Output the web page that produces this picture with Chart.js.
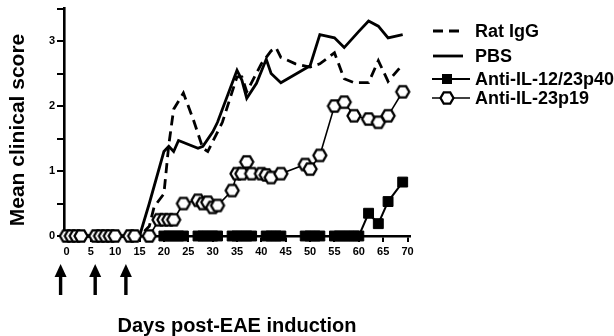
<!DOCTYPE html>
<html>
<head>
<meta charset="utf-8">
<style>
  html, body { margin: 0; padding: 0; background: #fff; }
  #wrap { width: 614px; height: 336px; }
</style>
</head>
<body>
<div id="wrap"><canvas id="myChart" width="614" height="336"></canvas></div>
<script src="https://cdn.jsdelivr.net/npm/chart.js@4/dist/chart.umd.min.js"></script>
<script>
// data (day, mean clinical score)
const ratDays   = [0, 15, 17, 18, 20, 21, 22, 24, 26, 28, 29, 31, 32, 35, 36, 37, 40, 42, 43, 44, 47, 50, 52, 55, 57, 59, 62, 64, 66, 69];
const ratScores = [0, 0, 0.15, 0.45, 0.65, 1.4, 1.95, 2.2, 1.8, 1.35, 1.3, 1.6, 1.75, 2.45, 2.45, 2.22, 2.65, 2.85, 2.9, 2.75, 2.65, 2.6, 2.65, 2.82, 2.42, 2.36, 2.36, 2.7, 2.38, 2.64];

const pbsDays   = [0, 15, 16, 17, 20, 21, 22, 23, 27, 28, 30, 31, 35, 36, 37, 39, 41, 42, 44, 50, 52, 55, 57, 60, 62, 64, 66, 69];
const pbsScores = [0, 0, 0.25, 0.5, 1.3, 1.38, 1.3, 1.47, 1.35, 1.38, 1.6, 1.75, 2.55, 2.4, 2.12, 2.35, 2.72, 2.5, 2.36, 2.62, 3.1, 3.05, 2.9, 3.15, 3.31, 3.23, 3.05, 3.1];

const p40Days   = [20, 21, 22, 23, 24, 27, 28, 29, 30, 31, 34, 35, 36, 37, 38, 41, 42, 43, 44, 49, 50, 51, 52, 55, 56, 57, 58, 59, 60, 62, 64, 66, 69];
const p40Scores = [0, 0, 0, 0, 0, 0, 0, 0, 0, 0, 0, 0, 0, 0, 0, 0, 0, 0, 0, 0, 0, 0, 0, 0, 0, 0, 0, 0, 0, 0.35, 0.19, 0.53, 0.83];

const p19Days   = [0, 1, 2, 3, 6, 7, 8, 9, 10, 13, 14, 17, 19, 20, 21, 22, 24, 27, 28, 29, 30, 31, 34, 35, 36, 37, 38, 40, 41, 42, 44, 49, 50, 52, 55, 57, 59, 62, 64, 66, 69];
const p19Scores = [0, 0, 0, 0, 0, 0, 0, 0, 0, 0, 0, 0, 0.25, 0.25, 0.25, 0.25, 0.5, 0.55, 0.5, 0.52, 0.44, 0.47, 0.7, 0.96, 0.96, 1.14, 0.96, 0.96, 0.94, 0.9, 0.96, 1.1, 1.03, 1.24, 2.0, 2.06, 1.85, 1.8, 1.75, 1.85, 2.22];

const seriesNames = ['Rat IgG', 'PBS', 'Anti-IL-12/23p40', 'Anti-IL-23p19'];
const xTicks = [0, 5, 10, 15, 20, 25, 30, 35, 40, 45, 50, 55, 60, 65, 70];
const yTicks = [0, 0.5, 1, 1.5, 2, 2.5, 3, 3.5];
const yLabels = [0, 1, 2, 3];
const arrowDays = [-1.2, 5.9, 12.2];

const FONT = '"Liberation Sans", Arial, Helvetica, sans-serif';

function pts(days, vals) {
    return days.map((d, i) => ({x: d, y: vals[i]}));
}

// open hexagon marker
const hex = document.createElement('canvas');
hex.width = 18; hex.height = 18;
(() => {
    const c = hex.getContext('2d');
    c.beginPath();
    for (let k = 0; k < 6; k++) {
        const a = Math.PI / 3 * k;
        const px = 9 + 6.5 * Math.cos(a), py = 9 + 6.5 * Math.sin(a);
        k === 0 ? c.moveTo(px, py) : c.lineTo(px, py);
    }
    c.closePath();
    c.fillStyle = '#fff';
    c.fill();
    c.lineWidth = 2.3;
    c.strokeStyle = '#000';
    c.stroke();
})();

// arrows, y title and legend
const extras = {
    id: 'extras',
    afterDraw(chart) {
        const ctx = chart.ctx;
        const xs = chart.scales.x;
        ctx.save();
        ctx.fillStyle = '#000';
        ctx.strokeStyle = '#000';

        arrowDays.forEach(d => {
            const x = xs.getPixelForValue(d);
            ctx.fillRect(x - 1.7, 275, 3.4, 20);
            ctx.beginPath();
            ctx.moveTo(x, 264);
            ctx.lineTo(x - 6, 277);
            ctx.lineTo(x + 6, 277);
            ctx.closePath();
            ctx.fill();
        });

        ctx.save();
        ctx.translate(18, 130);
        ctx.rotate(-Math.PI / 2);
        ctx.font = 'bold 21px ' + FONT;
        ctx.textAlign = 'center';
        ctx.textBaseline = 'middle';
        ctx.fillText('Mean clinical score', 0, 0);
        ctx.restore();

        // legend
        const rows = [31, 56, 79, 98];
        ctx.font = 'bold 18px ' + FONT;
        ctx.textAlign = 'left';
        ctx.textBaseline = 'middle';
        rows.forEach((y, i) => {
            ctx.beginPath();
            if (i === 0) {
                ctx.lineWidth = 2.8;
                ctx.setLineDash([10, 6]);
                ctx.moveTo(433, y); ctx.lineTo(465, y);
            } else if (i === 1) {
                ctx.lineWidth = 2.8;
                ctx.setLineDash([]);
                ctx.moveTo(433, y); ctx.lineTo(463, y);
            } else {
                ctx.lineWidth = i === 2 ? 2 : 1.6;
                ctx.setLineDash([]);
                ctx.moveTo(432, y); ctx.lineTo(470, y);
            }
            ctx.stroke();
            ctx.setLineDash([]);
            if (i === 2) ctx.fillRect(442, y - 5, 10, 10);
            if (i === 3) ctx.drawImage(hex, 447 - 9, y - 9);
            ctx.fillText(seriesNames[i], 475, y + 1);
        });
        ctx.restore();
    }
};

const ctx = document.querySelector('#myChart').getContext('2d');

const myChart = new Chart(ctx, {
    type: 'line',
    data: {
        datasets: [
            {
                label: seriesNames[0],
                data: pts(ratDays, ratScores),
                borderColor: '#000',
                borderWidth: 2.8,
                borderDash: [10, 6],
                pointRadius: 0,
                order: 3
            },
            {
                label: seriesNames[1],
                data: pts(pbsDays, pbsScores),
                borderColor: '#000',
                borderWidth: 2.8,
                pointRadius: 0,
                order: 2
            },
            {
                label: seriesNames[2],
                data: pts(p40Days, p40Scores),
                borderColor: '#000',
                borderWidth: 2,
                pointStyle: 'rect',
                pointRadius: 7,
                pointBackgroundColor: '#000',
                pointBorderColor: '#000',
                pointBorderWidth: 1,
                order: 1
            },
            {
                label: seriesNames[3],
                data: pts(p19Days, p19Scores),
                borderColor: '#000',
                borderWidth: 1.6,
                pointStyle: hex,
                pointRadius: 6,
                order: 0
            }
        ]
    },
    options: {
        responsive: false,
        animation: false,
        events: [],
        clip: false,
        elements: { line: { tension: 0 } },
        layout: { padding: { top: 8, right: 204, left: 0, bottom: 0 } },
        plugins: {
            legend: { display: false },
            tooltip: { enabled: false }
        },
        scales: {
            x: {
                type: 'linear',
                min: -0.5,
                max: 70.5,
                afterBuildTicks: s => { s.ticks = xTicks.map(v => ({value: v})); },
                afterFit: s => { s.height = 100; },
                border: { color: '#000', width: 2.6 },
                grid: { drawOnChartArea: false, drawTicks: true, tickLength: 6, color: '#000', lineWidth: 2 },
                ticks: {
                    color: '#000',
                    padding: 3,
                    maxRotation: 0,
                    font: { family: FONT, size: 11, weight: 'bold' }
                },
                title: {
                    display: true,
                    text: 'Days post-EAE induction',
                    color: '#000',
                    padding: 0,
                    font: { family: FONT, size: 20, weight: 'bold', lineHeight: 1 }
                }
            },
            y: {
                min: 0,
                max: 3.5,
                afterBuildTicks: s => { s.ticks = yTicks.map(v => ({value: v})); },
                afterFit: s => { s.width = 64; },
                border: { color: '#000', width: 2.6 },
                grid: { drawOnChartArea: false, drawTicks: true, tickLength: 7, color: '#000', lineWidth: 2 },
                ticks: {
                    color: '#000',
                    padding: 2,
                    font: { family: FONT, size: 11, weight: 'bold' },
                    callback: v => yLabels.includes(v) ? String(v) : ''
                }
            }
        }
    },
    plugins: [extras]
});
</script>
</body>
</html>
